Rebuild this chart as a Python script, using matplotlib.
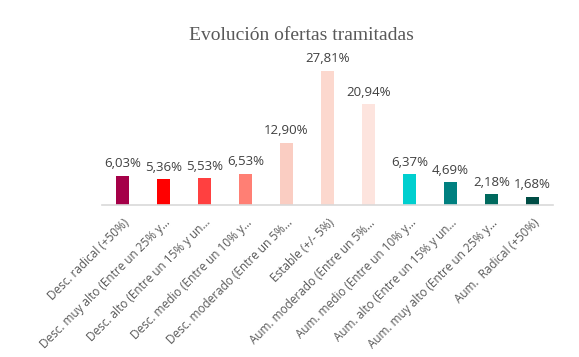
import matplotlib
matplotlib.use("Agg")
import matplotlib.pyplot as plt

categories = [
    "Desc. radical (+50%)",
    "Desc. muy alto (Entre un 25% y…",
    "Desc. alto (Entre un 15% y un…",
    "Desc. medio (Entre un 10% y…",
    "Desc. moderado (Entre un 5%…",
    "Estable (+/- 5%)",
    "Aum. moderado (Entre un 5%…",
    "Aum. medio (Entre un 10% y…",
    "Aum. alto (Entre un 15% y un…",
    "Aum. muy alto (Entre un 25% y…",
    "Aum.  Radical (+50%)",
]
values = [6.03, 5.36, 5.53, 6.53, 12.90, 27.81, 20.94, 6.37, 4.69, 2.18, 1.68]
value_labels = ["6,03%", "5,36%", "5,53%", "6,53%", "12,90%", "27,81%",
                "20,94%", "6,37%", "4,69%", "2,18%", "1,68%"]
colors = ["#A50048", "#FF0000", "#FF4040", "#FF7F74", "#FACDC2", "#FCD8CE",
          "#FDE4DE", "#00CFCF", "#008080", "#006A5E", "#004D45"]
title = "Evolución ofertas tramitadas"

fig = plt.figure(figsize=(5.79, 3.57), dpi=100)
ax = fig.add_axes([0.176, 0.4258, 0.779, 0.405])
x = list(range(len(values)))
ax.bar(x, values, width=0.32, color=colors, zorder=2)
ax.set_xlim(-0.5, len(values) - 0.5)
ax.set_ylim(0, 30)
for xi, v, lab in zip(x, values, value_labels):
    ax.annotate(lab, (xi, v), xytext=(0, 4), textcoords="offset points",
                ha="center", va="bottom", fontsize=9.5, color="#404040",
                family="Open Sans")
for s in ["top", "right", "left"]:
    ax.spines[s].set_visible(False)
ax.spines["bottom"].set_color("#D9D9D9")
ax.spines["bottom"].set_linewidth(1.2)
ax.set_yticks([])
ax.set_xticks(x)
ax.set_xticklabels(categories, rotation=45, ha="right", va="top",
                   rotation_mode="anchor", fontsize=8.5, color="#595959",
                   family="Open Sans")
ax.tick_params(axis="x", length=0, pad=8)
fig.text(0.52, 1 - 40 / 357, title, ha="center", va="baseline", fontsize=14,
         color="#595959", family="Liberation Serif")
fig.savefig("out.png", dpi=100)
